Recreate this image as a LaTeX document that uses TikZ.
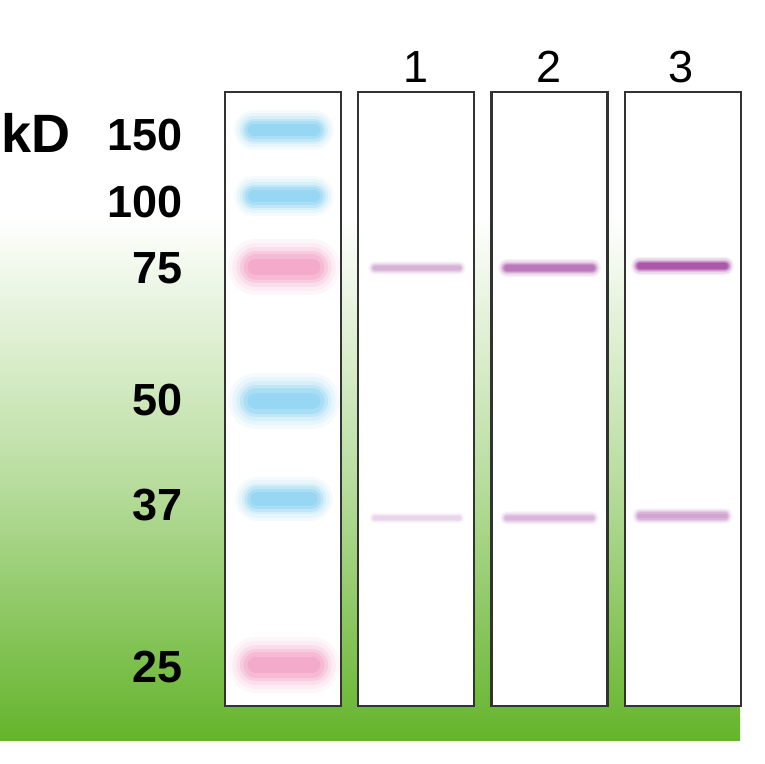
\documentclass[tikz,border=0pt]{standalone}
\usepackage{fontspec}
\setmainfont{Liberation Sans}

\definecolor{gelgreen}{HTML}{64B42B}
\definecolor{ladderblue}{HTML}{8AD2F2}
\definecolor{ladderpink}{HTML}{F4A0C4}
\definecolor{lanedark}{HTML}{333333}

% one blurred band: x1, x2, y, thickness, colour
\newcommand{\gelband}[5]{%
  \foreach \w/\o in {2.0/0.08,1.7/0.12,1.4/0.18,1.15/0.28,0.9/0.4,0.6/0.55}
    \draw[#5, line width=\w*#4, opacity=\o, line cap=round] (#1,#3) -- (#2,#3);
}

\begin{document}
\begin{tikzpicture}[x=1pt, y=-1pt,
  lanebox/.style={draw=lanedark, line width=2.8pt, fill=white, minimum width=116pt,
    minimum height=614pt, inner sep=0pt},
  sizelabel/.style={anchor=base east, inner sep=0pt, font=\fontsize{45}{45}\selectfont\bfseries},
  lanelabel/.style={anchor=base, inner sep=0pt, font=\fontsize{45}{45}\selectfont}]
\useasboundingbox (0,0) rectangle (764,764);

% Background
\fill[white] (0,0) rectangle (764,764);
\shade[top color=white, bottom color=gelgreen, middle color=gelgreen!45] (0,215) rectangle (740,740);

% Lanes
\node[lanebox] (ladder) at (283,399) {};
\node[lanebox] (lane1) at (416,399) {};
\node[lanebox] (lane2) at (549.5,399) {};
\node[lanebox] (lane3) at (683,399) {};

% Lane numbers
\node[lanelabel] (num1) at (416,82) {1};
\node[lanelabel] (num2) at (549.5,82) {2};
\node[lanelabel] (num3) at (681,82) {3};

% Sizes
\node[anchor=base west, inner sep=0pt, font=\fontsize{54}{54}\selectfont\bfseries] (kd) at (1,152) {kD};
\node[sizelabel] (s150) at (183,150) {150};
\node[sizelabel] (s100) at (183,217) {100};
\node[sizelabel] (s75) at (183,283) {75};
\node[sizelabel] (s50) at (183,415) {50};
\node[sizelabel] (s37) at (183,520) {37};
\node[sizelabel] (s25) at (183,682) {25};

% Ladder
\gelband{254}{314}{130}{20}{ladderblue}
\gelband{254}{314}{196}{20}{ladderblue}
\gelband{256}{312}{267}{28}{ladderpink}
\gelband{256}{312}{401}{28}{ladderblue}
\gelband{257}{311}{499}{22}{ladderblue}
\gelband{256}{312}{665}{28}{ladderpink}

% Samples
\gelband{375}{459}{268}{7}{violet!35}
\gelband{375}{459}{518}{6}{violet!18}
\gelband{507}{592}{268}{9}{violet!60}
\gelband{507}{592}{518}{7}{violet!32}
\gelband{640}{725}{266}{9}{violet!75}
\gelband{640}{725}{516}{8}{violet!40}

\end{tikzpicture}
\end{document}
